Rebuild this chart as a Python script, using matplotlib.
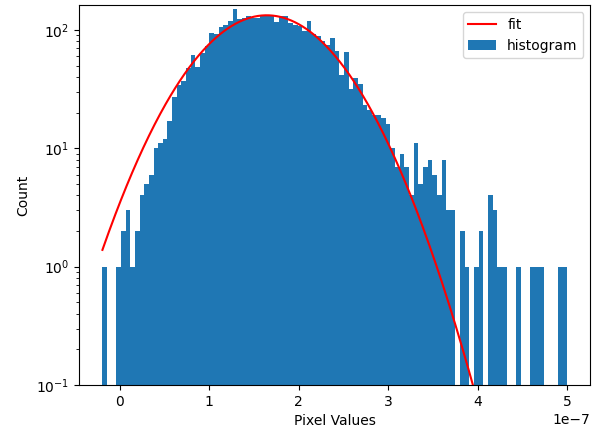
import numpy as np
import matplotlib
matplotlib.use('Agg')
import matplotlib.pyplot as plt

# histogram of pixel values, 100 bins
x_min = -0.195e-7
x_max = 5.0e-7
counts = [1, 0, 0, 1, 2, 3, 1, 2, 4, 5,
          6, 10, 11, 12, 17, 27, 34, 37, 48, 62,
          49, 64, 73, 94, 92, 105, 110, 119, 151, 123,
          127, 131, 127, 127, 134, 135, 133, 117, 132, 132,
          115, 111, 108, 98, 119, 92, 89, 81, 74, 86,
          66, 42, 65, 32, 39, 35, 23, 21, 19, 19,
          18, 16, 10, 7, 9, 7, 4, 11, 5, 7,
          8, 6, 4, 8, 3, 3, 0, 2, 1, 0,
          1, 2, 0, 4, 3, 1, 1, 0, 0, 1,
          0, 0, 1, 1, 1, 0, 0, 0, 1, 1]

# gaussian fit parameters
fit_amp = 133.0
fit_mu = 1.642e-7
fit_sigma = 0.608e-7

edges = np.linspace(x_min, x_max, len(counts) + 1)
centers = 0.5 * (edges[:-1] + edges[1:])

xf = np.linspace(x_min, x_max, 500)
yf = fit_amp * np.exp(-(xf - fit_mu)**2 / (2 * fit_sigma**2))

fig = plt.figure(figsize=(6.11, 4.29), dpi=100)
ax = fig.add_axes([0.129, 0.1026, 0.837, 0.8854])

ax.plot(xf, yf, color='red', label='fit')
ax.hist(centers, bins=edges, weights=counts, log=True, color='#1f77b4',
        label='histogram')

ax.set_xlim(-0.459e-7, 5.26e-7)
ax.set_ylim(0.1, 162)
ax.set_xlabel('Pixel Values')
ax.set_ylabel('Count')
ax.legend(loc='upper right')

fig.savefig('out.png', dpi=100)
